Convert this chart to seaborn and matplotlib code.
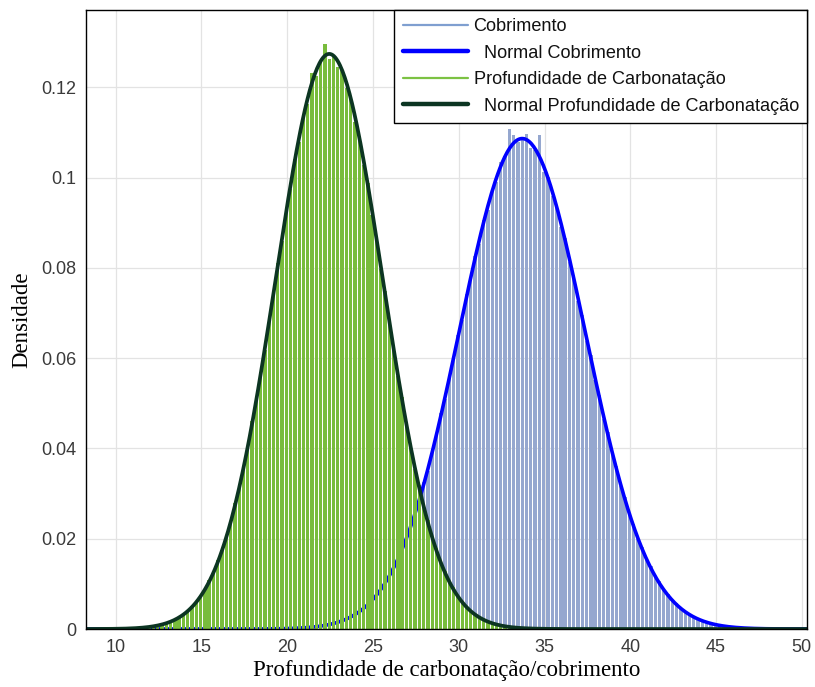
import numpy as np
import pandas as pd
import seaborn as sns
import matplotlib
matplotlib.use("Agg")
import matplotlib.pyplot as plt
from matplotlib.lines import Line2D

# Histogram densities (probability density per bin), bin width 0.25
bin_width = 0.25

# Cobrimento: first bin centre 20.7
cob_first_center = 20.7
cob_density = [
    0.0002, 0.0003, 0.0003, 0.0004, 0.0006, 0.0007, 0.0008, 0.0011, 0.0012, 0.0017,
    0.0018, 0.0024, 0.0026, 0.0034, 0.0038, 0.0048, 0.0054, 0.0066, 0.0075, 0.0090,
    0.0102, 0.0121, 0.0135, 0.0160, 0.0176, 0.0207, 0.0226, 0.0262, 0.0284, 0.0326,
    0.0351, 0.0398, 0.0427, 0.0478, 0.0509, 0.0563, 0.0596, 0.0652, 0.0684, 0.0741,
    0.0772, 0.0826, 0.0852, 0.0905, 0.0928, 0.0975, 0.0990, 0.1034, 0.1048, 0.1108,
    0.1094, 0.1078, 0.1090, 0.1096, 0.1066, 0.1062, 0.1095, 0.1012, 0.1002, 0.0958,
    0.0940, 0.0890, 0.0866, 0.0812, 0.0784, 0.0727, 0.0695, 0.0638, 0.0607, 0.0551,
    0.0519, 0.0466, 0.0437, 0.0388, 0.0360, 0.0317, 0.0292, 0.0254, 0.0233, 0.0199,
    0.0182, 0.0154, 0.0140, 0.0116, 0.0106, 0.0087, 0.0078, 0.0063, 0.0057, 0.0046,
    0.0040, 0.0032, 0.0028, 0.0022, 0.0020, 0.0015, 0.0013, 0.0010, 0.0008, 0.0006,
    0.0005, 0.0004, 0.0003, 0.0002, 0.0002,
]

# Profundidade de carbonatação: first bin centre 11.95
carb_first_center = 11.95
carb_density = [
    0.0005, 0.0006, 0.0008, 0.0011, 0.0014, 0.0016, 0.0022, 0.0026, 0.0034, 0.0040,
    0.0051, 0.0060, 0.0076, 0.0088, 0.0109, 0.0125, 0.0153, 0.0175, 0.0209, 0.0236,
    0.0279, 0.0313, 0.0362, 0.0402, 0.0460, 0.0506, 0.0570, 0.0618, 0.0688, 0.0738,
    0.0810, 0.0860, 0.0931, 0.0975, 0.1042, 0.1078, 0.1138, 0.1162, 0.1232, 0.1224,
    0.1258, 0.1295, 0.1262, 0.1270, 0.1244, 0.1238, 0.1198, 0.1178, 0.1122, 0.1092,
    0.1028, 0.0988, 0.0918, 0.0871, 0.0798, 0.0749, 0.0677, 0.0629, 0.0560, 0.0515,
    0.0452, 0.0410, 0.0355, 0.0320, 0.0273, 0.0242, 0.0203, 0.0180, 0.0149, 0.0129,
    0.0105, 0.0092, 0.0072, 0.0062, 0.0049, 0.0042, 0.0032, 0.0028, 0.0020, 0.0018,
    0.0012, 0.0011, 0.0007, 0.0006, 0.0004,
]

x_ticks = [10, 15, 20, 25, 30, 35, 40, 45, 50]
y_ticks = [0, 0.02, 0.04, 0.06, 0.08, 0.1, 0.12]
y_tick_labels = ["0", "0.02", "0.04", "0.06", "0.08", "0.1", "0.12"]

legend_labels = [
    "Cobrimento",
    "  Normal Cobrimento",
    "Profundidade de Carbonatação",
    "  Normal Profundidade de Carbonatação",
]


def bins_from(first_center, values):
    n = len(values)
    frame = pd.DataFrame({
        "center": first_center + bin_width * np.arange(n),
        "density": np.asarray(values, dtype=float),
    })
    edges = [float(e) for e in first_center - bin_width / 2 + bin_width * np.arange(n + 1)]
    return frame, edges


def normal_fit(frame):
    w = frame["density"].to_numpy() * bin_width
    c = frame["center"].to_numpy()
    mu = np.sum(c * w) / np.sum(w)
    sd = np.sqrt(np.sum((c - mu) ** 2 * w) / np.sum(w))
    return mu, sd


def normal_pdf(x, mu, sd):
    return np.exp(-0.5 * ((x - mu) / sd) ** 2) / (sd * np.sqrt(2 * np.pi))


cob_df, cob_edges = bins_from(cob_first_center, cob_density)
carb_df, carb_edges = bins_from(carb_first_center, carb_density)
cob_mu, cob_sd = normal_fit(cob_df)
carb_mu, carb_sd = normal_fit(carb_df)

x_min, x_max = 8.27, 50.3
xs = np.linspace(x_min, x_max, 600)
curves = pd.DataFrame({
    "x": xs,
    "cob": normal_pdf(xs, cob_mu, cob_sd),
    "carb": normal_pdf(xs, carb_mu, carb_sd),
})

sns.set_theme(style="whitegrid")
plt.rcParams["font.family"] = ["Liberation Sans", "DejaVu Sans"]

fig = plt.figure(figsize=(8.15, 6.87), dpi=100)
ax = fig.add_axes([0.1055, 0.0844, 0.8847, 0.9010])

cob_face = "#95a7cf"
carb_face = "#78bc3c"
cob_line, carb_line = "#0000ff", "#0c3522"

# Layered in drawing order: each curve sits above its own histogram,
# and the second histogram covers the first curve (visible in the bar gaps).
sns.histplot(data=cob_df, x="center", weights="density", bins=cob_edges,
             stat="count", ax=ax, color=cob_face, linewidth=0, shrink=0.78,
             alpha=1, zorder=2)
sns.lineplot(data=curves, x="x", y="cob", ax=ax, color=cob_line,
             linewidth=2.6, zorder=3)
sns.histplot(data=carb_df, x="center", weights="density", bins=carb_edges,
             stat="count", ax=ax, color=carb_face, linewidth=0, shrink=0.78,
             alpha=1, zorder=4)
sns.lineplot(data=curves, x="x", y="carb", ax=ax, color=carb_line,
             linewidth=2.7, zorder=5)

ax.set_xlim(x_min, x_max)
ax.set_ylim(0, 0.1371)
ax.set_xticks(x_ticks)
ax.set_yticks(y_ticks)
ax.set_yticklabels(y_tick_labels)
ax.grid(True, color="#e3e3e3", linewidth=0.9, zorder=0)
ax.set_axisbelow(True)
ax.tick_params(axis="both", direction="in", length=4, width=0.8, color="black",
               labelsize=13, labelcolor="#3a3a3a", pad=7)
for side in ax.spines.values():
    side.set_color("black")
    side.set_linewidth(1.0)
    side.set_zorder(6)

ax.set_xlabel("Profundidade de carbonatação/cobrimento", fontfamily="Liberation Serif",
              fontsize=16.5, color="black", labelpad=3)
ax.set_ylabel("Densidade", fontfamily="Liberation Serif", fontsize=16.5,
              color="black", labelpad=6)

handles = [
    Line2D([], [], color="#7f9fd0", linewidth=1.6),
    Line2D([], [], color=cob_line, linewidth=3.2),
    Line2D([], [], color="#7cc243", linewidth=1.6),
    Line2D([], [], color=carb_line, linewidth=3.2),
]
leg = ax.legend(handles, legend_labels, loc="upper right", bbox_to_anchor=(1, 1),
                borderaxespad=0, fancybox=False, framealpha=1, edgecolor="black",
                fontsize=13.1, handlelength=3.6, handletextpad=0.3,
                labelspacing=0.52, borderpad=0.45)
leg.get_frame().set_linewidth(1.0)
leg.set_zorder(10)
for t in leg.get_texts():
    t.set_color("#111111")

fig.savefig("out.png", dpi=100)
